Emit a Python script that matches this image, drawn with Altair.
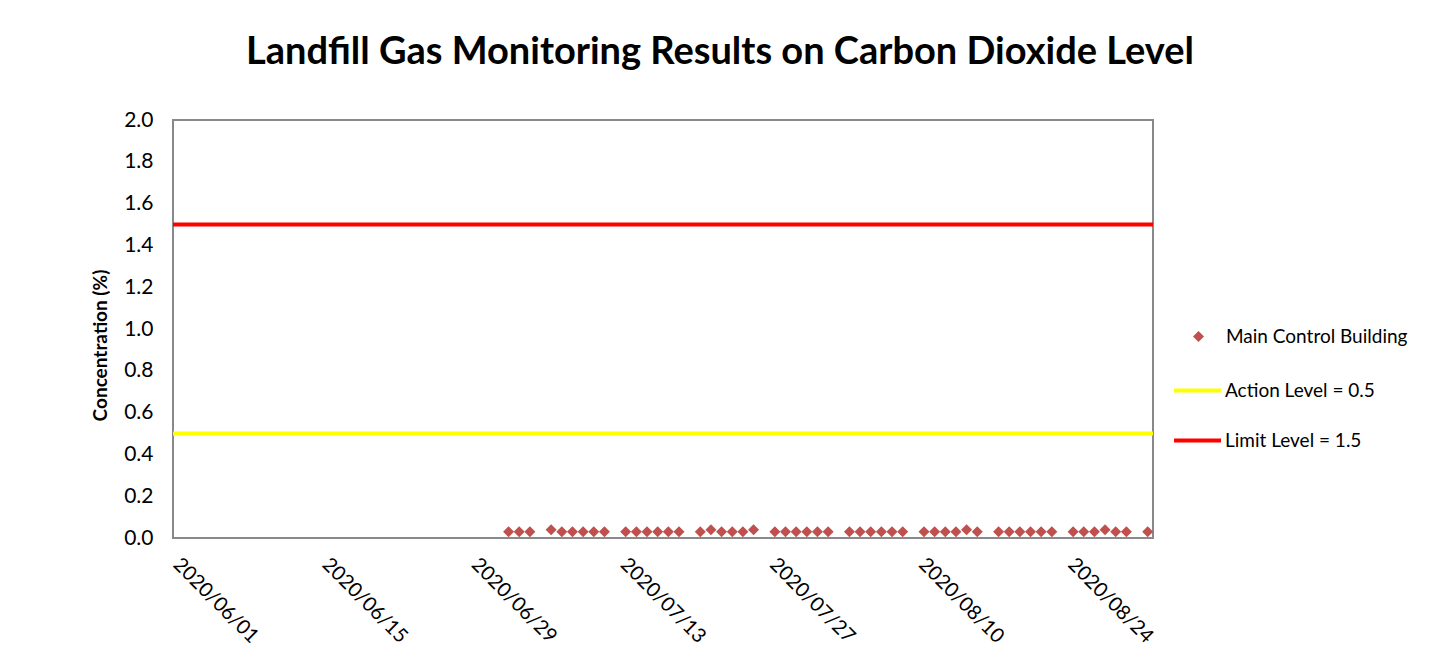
import altair as alt
import pandas as pd

dates = [
    "2020-07-02", "2020-07-03", "2020-07-04",
    "2020-07-06", "2020-07-07", "2020-07-08", "2020-07-09", "2020-07-10", "2020-07-11",
    "2020-07-13", "2020-07-14", "2020-07-15", "2020-07-16", "2020-07-17", "2020-07-18",
    "2020-07-20", "2020-07-21", "2020-07-22", "2020-07-23", "2020-07-24", "2020-07-25",
    "2020-07-27", "2020-07-28", "2020-07-29", "2020-07-30", "2020-07-31", "2020-08-01",
    "2020-08-03", "2020-08-04", "2020-08-05", "2020-08-06", "2020-08-07", "2020-08-08",
    "2020-08-10", "2020-08-11", "2020-08-12", "2020-08-13", "2020-08-14", "2020-08-15",
    "2020-08-17", "2020-08-18", "2020-08-19", "2020-08-20", "2020-08-21", "2020-08-22",
    "2020-08-24", "2020-08-25", "2020-08-26", "2020-08-27", "2020-08-28", "2020-08-29",
    "2020-08-31",
]
values = [
    0.03, 0.03, 0.03,
    0.04, 0.03, 0.03, 0.03, 0.03, 0.03,
    0.03, 0.03, 0.03, 0.03, 0.03, 0.03,
    0.03, 0.04, 0.03, 0.03, 0.03, 0.04,
    0.03, 0.03, 0.03, 0.03, 0.03, 0.03,
    0.03, 0.03, 0.03, 0.03, 0.03, 0.03,
    0.03, 0.03, 0.03, 0.03, 0.04, 0.03,
    0.03, 0.03, 0.03, 0.03, 0.03, 0.03,
    0.03, 0.03, 0.03, 0.04, 0.03, 0.03,
    0.03,
]
series_name = "Main Control Building"
level_names = ["Action Level = 0.5", "Limit Level = 1.5"]
level_values = [0.5, 1.5]
level_colors = ["#FFFF00", "#FF0000"]
tick_dates = ["2020-06-01", "2020-06-15", "2020-06-29", "2020-07-13",
              "2020-07-27", "2020-08-10", "2020-08-24"]
y_ticks = [0.0, 0.2, 0.4, 0.6, 0.8, 1.0, 1.2, 1.4, 1.6, 1.8, 2.0]

FONT = "Lato"

# Excel date axis "between tick marks": each day is plotted at the middle of its slot
pts = pd.DataFrame({
    "date": pd.to_datetime(dates) + pd.Timedelta(hours=12),
    "value": values,
    "series": series_name,
})
lv = pd.DataFrame({"level": level_names, "value": level_values})

tick_vals = [alt.DateTime(year=int(d[0:4]), month=int(d[5:7]), date=int(d[8:10])) for d in tick_dates]

x_enc = alt.X(
    "date:T",
    scale=alt.Scale(domain=[alt.DateTime(year=2020, month=6, date=1),
                            alt.DateTime(year=2020, month=9, date=1)]),
    axis=alt.Axis(values=tick_vals, format="%Y/%m/%d", labelAngle=45,
                  labelAlign="left", labelBaseline="top", labelPadding=16,
                  labelOffset=10,
                  labelFontSize=20, labelFont=FONT, labelColor="#000000",
                  ticks=False, domain=False, grid=False, title=None),
)
y_enc = alt.Y(
    "value:Q",
    scale=alt.Scale(domain=[0, 2]),
    axis=alt.Axis(values=y_ticks, format=".1f", labelFontSize=21, labelFont=FONT,
                  labelColor="#000000", labelPadding=20, ticks=False, domain=False,
                  grid=False, title="Concentration (%)", titleFont=FONT,
                  titleFontSize=19, titleFontWeight="bold", titleColor="#000000",
                  titlePadding=13, titleY=225),
)

points = alt.Chart(pts).mark_point(shape="diamond", filled=True, size=121, opacity=1).encode(
    x=x_enc,
    y=y_enc,
    color=alt.Color("series:N",
                    scale=alt.Scale(domain=[series_name], range=["#C0504D"]),
                    legend=alt.Legend(title=None, orient="none", legendX=1016, legendY=207,
                                      symbolType="diamond", symbolSize=121,
                                      labelOffset=18, labelFont=FONT, labelFontSize=19,
                                      labelLimit=0,
                                      labelColor="#000000", padding=0)),
)

rules = alt.Chart(lv).mark_rule(strokeWidth=4).encode(
    y=alt.Y("value:Q"),
    color=alt.Color("level:N",
                    scale=alt.Scale(domain=level_names, range=level_colors),
                    legend=alt.Legend(title=None, orient="none", legendX=999, legendY=245,
                                      symbolType="stroke", symbolSize=2209,
                                      symbolStrokeWidth=4, labelOffset=2,
                                      labelFont=FONT, labelFontSize=19, labelLimit=0,
                                      labelColor="#000000", rowPadding=14, padding=0)),
)

chart = alt.layer(rules, points).resolve_scale(color="independent").resolve_legend(
    color="independent"
).properties(
    width=980,
    height=418,
    title=alt.TitleParams("Landfill Gas Monitoring Results on Carbon Dioxide Level",
                          font=FONT, fontSize=38, fontWeight="bold", color="#000000",
                          anchor="middle", dx=57, offset=37),
    autosize=alt.AutoSizeParams(type="none"),
    padding={"left": 165, "top": 112, "right": 270, "bottom": 110},
    background="#FFFFFF",
).configure_view(stroke="#898989", strokeWidth=2)

chart.save("out.html", embed_options={"renderer": "svg", "actions": False})
